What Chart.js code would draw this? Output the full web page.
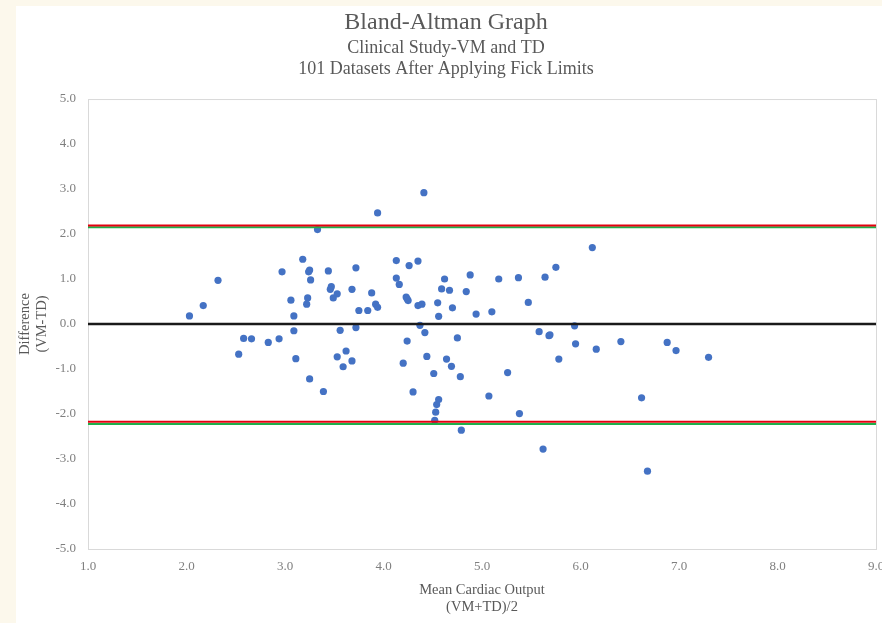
<!DOCTYPE html>
<html>
<head>
<meta charset="utf-8">
<title>Bland-Altman Graph</title>
<script src="https://cdn.jsdelivr.net/npm/chart.js@4.4.1/dist/chart.umd.min.js"></script>
<style>
  html, body { margin: 0; padding: 0; background: #fcf8ec; }
  #wrap { width: 882px; height: 623px; }
</style>
</head>
<body>
<div id="wrap"><canvas id="bland" width="882" height="623"></canvas></div>
<script>
// mean cardiac output (VM+TD)/2 and difference (VM-TD)
const meanCO = [
  3.94, 3.33, 3.18, 2.97, 2.32, 3.25, 3.26, 3.44, 3.72, 4.13,
  4.26, 4.35, 4.13, 4.16, 2.17, 2.03, 3.06, 3.09, 3.23, 3.22,
  3.47, 3.46, 3.49, 3.53, 3.68, 3.88, 3.75, 3.84, 3.92, 3.94,
  4.23, 4.25, 4.35, 4.39, 3.09, 3.56, 3.72, 4.37, 2.58, 2.66,
  2.83, 2.94, 2.53, 3.11, 3.25, 3.39, 3.62, 3.53, 3.68, 3.59,
  4.24, 4.20, 4.30, 4.41, 6.12, 4.62, 4.88, 5.17, 5.37, 5.64,
  5.75, 4.59, 4.67, 4.84, 4.55, 4.70, 4.56, 4.94, 5.10, 5.47,
  5.94, 4.42, 4.75, 4.44, 4.64, 4.69, 4.51, 4.78, 5.26, 5.07,
  4.56, 4.54, 4.53, 4.52, 5.38, 4.79, 5.58, 5.68, 5.95, 5.78,
  6.16, 6.41, 6.88, 6.97, 7.30, 6.62, 6.68, 5.62, 3.24, 4.24,
  5.69
];
const diffVM = [
  2.47, 2.10, 1.44, 1.16, 0.97, 1.20, 0.98, 1.18, 1.25, 1.41,
  1.30, 1.40, 1.02, 0.88, 0.41, 0.18, 0.53, 0.18, 0.58, 0.44,
  0.83, 0.77, 0.58, 0.67, 0.77, 0.69, 0.30, 0.30, 0.44, 0.37,
  0.60, 0.52, 0.41, 0.44, -0.15, -0.14, -0.08, -0.03, -0.32, -0.33,
  -0.41, -0.33, -0.67, -0.77, -1.22, -1.50, -0.60, -0.73, -0.82, -0.95,
  -0.38, -0.87, -1.51, 2.92, 1.70, 1.00, 1.09, 1.00, 1.03, 1.04,
  1.26, 0.78, 0.75, 0.72, 0.47, 0.36, 0.17, 0.22, 0.27, 0.48,
  -0.04, -0.19, -0.31, -0.72, -0.78, -0.94, -1.10, -1.17, -1.08, -1.60,
  -1.68, -1.79, -1.96, -2.14, -1.99, -2.36, -0.17, -0.26, -0.44, -0.78,
  -0.56, -0.39, -0.41, -0.59, -0.74, -1.64, -3.27, -2.78, 1.16, 0.56,
  -0.24
];

// reference lines: bias and limits (red) / fick limits (green)
const biasLine = 0.0;
const redLimits = [2.19, -2.17];
const greenLimits = [2.15, -2.22];

const xTickVals = [1, 2, 3, 4, 5, 6, 7, 8, 9];
const xTickLabels = ['1.0', '2.0', '3.0', '4.0', '5.0', '6.0', '7.0', '8.0', '9.0'];
const yTickVals = [5, 4, 3, 2, 1, 0, -1, -2, -3, -4, -5];
const yTickLabels = ['5.0', '4.0', '3.0', '2.0', '1.0', '0.0', '-1.0', '-2.0', '-3.0', '-4.0', '-5.0'];

const serif = '"Liberation Serif", "DejaVu Serif", serif';

const hLine = (v, color, w) => ({
  type: 'line',
  data: [{ x: xTickVals[0], y: v }, { x: xTickVals[xTickVals.length - 1], y: v }],
  borderColor: color,
  borderWidth: w,
  pointRadius: 0,
  fill: false
});

// cream outer frame + white chart sheet, gray frame round the plot
const sheet = {
  id: 'sheet',
  beforeDraw(chart) {
    const c = chart.ctx;
    c.save();
    c.fillStyle = '#fcf8ec';
    c.fillRect(0, 0, chart.width, chart.height);
    c.fillStyle = '#ffffff';
    c.fillRect(16, 6, chart.width - 16, chart.height - 6);
    c.restore();
  },
  beforeDatasetsDraw(chart) {
    const a = chart.chartArea;
    const c = chart.ctx;
    c.save();
    c.strokeStyle = '#d9d9d9';
    c.lineWidth = 1;
    c.strokeRect(a.left + 0.5, a.top + 0.5, a.right - a.left, a.bottom - a.top);
    c.restore();
  }
};

const ctx = document.getElementById('bland').getContext('2d');
const chart = new Chart(ctx, {
  type: 'scatter',
  data: {
    datasets: [
      hLine(biasLine, '#1a1a1a', 2.3),
      hLine(redLimits[0], '#e3000f', 2),
      hLine(greenLimits[0], '#1fae4a', 2),
      hLine(redLimits[1], '#e3000f', 2),
      hLine(greenLimits[1], '#1fae4a', 2),
      {
        label: 'Difference',
        data: meanCO.map((m, i) => ({ x: m, y: diffVM[i] })),
        backgroundColor: '#4472c4',
        borderColor: '#4472c4',
        pointRadius: 3.6,
        borderWidth: 0
      }
    ]
  },
  options: {
    responsive: false,
    animation: false,
    layout: { padding: { left: 16, right: 6, top: 8, bottom: 6 } },
    plugins: {
      legend: { display: false },
      tooltip: { enabled: false },
      title: {
        display: true,
        text: 'Bland-Altman Graph',
        color: '#595959',
        font: { family: serif, size: 24, weight: 'normal', lineHeight: 1.1 },
        padding: { top: 2, bottom: 0 }
      },
      subtitle: {
        display: true,
        text: ['Clinical Study-VM and TD', '101 Datasets After Applying Fick Limits'],
        color: '#595959',
        font: { family: serif, size: 18, lineHeight: 1.14 },
        padding: { top: 1.8, bottom: 19.8 }
      }
    },
    scales: {
      x: {
        type: 'linear',
        min: 1,
        max: 9,
        afterBuildTicks: s => { s.ticks = xTickVals.map(v => ({ value: v })); },
        afterFit: s => { s.height = 68; s.paddingLeft = 0; s.paddingRight = 0; },
        ticks: {
          callback: (v, i) => xTickLabels[i],
          color: '#7f7f7f',
          font: { family: serif, size: 13 },
          padding: 10,
          maxRotation: 0
        },
        grid: { display: false, drawTicks: false },
        border: { display: false },
        title: {
          display: true,
          text: ['Mean Cardiac Output', '(VM+TD)/2'],
          color: '#595959',
          font: { family: serif, size: 14.5, lineHeight: 1.17 },
          padding: { top: 0, bottom: 1.5 }
        }
      },
      y: {
        type: 'linear',
        min: -5,
        max: 5,
        afterBuildTicks: s => { s.ticks = yTickVals.map(v => ({ value: v })); },
        afterFit: s => { s.width = 72; },
        ticks: {
          callback: (v, i) => yTickLabels[i],
          color: '#7f7f7f',
          font: { family: serif, size: 13 },
          padding: 12
        },
        grid: { display: false, drawTicks: false },
        border: { display: false },
        title: {
          display: true,
          text: ['Difference', '(VM-TD)'],
          color: '#595959',
          font: { family: serif, size: 14.5, lineHeight: 1.15 },
          padding: { top: 1, bottom: 0 }
        }
      }
    }
  },
  plugins: [sheet]
});
</script>
</body>
</html>
